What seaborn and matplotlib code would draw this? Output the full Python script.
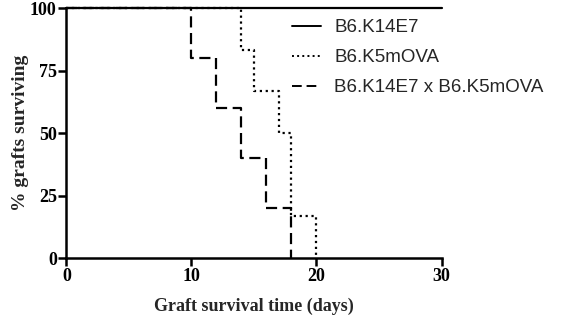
import numpy             as np
import matplotlib
matplotlib.use('Agg')
import matplotlib.pyplot as plt
import pandas            as pd
import seaborn           as sns

# Kaplan-Meier steps (time in days, % surviving)
k14e7_days  = [0, 30]
k14e7_surv  = [100, 100]
k5mova_days = [0, 14, 15, 17, 18, 20]
k5mova_surv = [100, 83.33, 66.67, 50, 16.67, 0]
cross_days  = [0, 10, 12, 14, 16, 18]
cross_surv  = [100, 80, 60, 40, 20, 0]

groups = ['B6.K14E7', 'B6.K5mOVA', 'B6.K14E7 x B6.K5mOVA']
styles = ['-', ':', (0, (5, 2.5))]
zords  = [5, 3, 3]   # solid line on top so the 100% run looks unbroken

df = pd.concat([
    pd.DataFrame({'days': k14e7_days,  'surv': k14e7_surv,  'group': groups[0]}),
    pd.DataFrame({'days': k5mova_days, 'surv': k5mova_surv, 'group': groups[1]}),
    pd.DataFrame({'days': cross_days,  'surv': cross_surv,  'group': groups[2]}),
], ignore_index = True)

sns.set_style('ticks')

fig = plt.figure(figsize = (5.61, 3.23), dpi = 100)
ax  = fig.add_axes([0.1185, 0.2012, 0.787 - 0.1185, 0.975 - 0.2012])

for name, ls, z in zip(groups, styles, zords):
    sns.lineplot(data      = df[df['group'] == name],
                 x         = 'days',
                 y         = 'surv',
                 ax        = ax,
                 color     = 'black',
                 linewidth = 1.6,
                 linestyle = ls,
                 drawstyle = 'steps-post',
                 label     = name,
                 clip_on   = False,
                 zorder    = z)

ax.set_xlim(0, 30)
ax.set_ylim(0, 100)
ax.set_xticks([0, 10, 20, 30])
ax.set_yticks([0, 25, 50, 75, 100])

serif = {'family': 'Liberation Serif', 'weight': 'bold'}
ax.set_xlabel('Graft survival time (days)', fontdict = dict(serif, size = 13), labelpad = 9)
ax.set_ylabel('% grafts surviving', fontdict = dict(serif, size = 14), labelpad = 1)
for lab in ax.get_xticklabels() + ax.get_yticklabels():
    lab.set_fontfamily('Liberation Serif')
    lab.set_fontweight('bold')
    lab.set_fontsize(13)

sns.despine(ax = ax)
for side in ['left', 'bottom']:
    ax.spines[side].set_linewidth(1.8)
    ax.spines[side].set_color('black')
ax.tick_params(width = 1.8, length = 6, color = 'black', pad = 1, labelcolor = 'black')

leg = ax.legend(loc            = 'upper left',
                bbox_to_anchor = (0.601, 0.955),
                frameon        = False,
                handlelength   = 1.55,
                handletextpad  = 0.7,
                labelspacing   = 0.68,
                borderaxespad  = 0,
                borderpad      = 0,
                prop           = {'family': 'Liberation Sans', 'size': 13.5})
for line in leg.get_lines():
    line.set_linewidth(1.4)

fig.savefig('out.png', dpi = 100)
